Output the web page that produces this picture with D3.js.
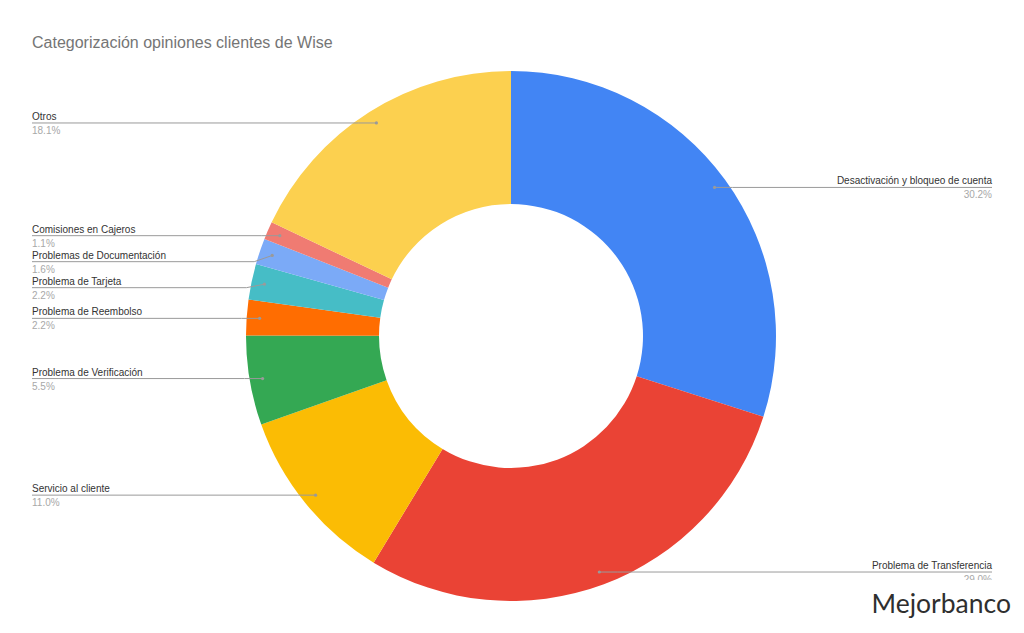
<!DOCTYPE html>
<html>
<head>
<meta charset="utf-8">
<script src="https://cdn.jsdelivr.net/npm/d3@7"></script>
<style>
  html, body { margin: 0; padding: 0; background: #fff; }
  svg { display: block; }
</style>
</head>
<body>
<svg id="chart" width="1024" height="633"></svg>
<script>
const title = "Categorización opiniones clientes de Wise";
const categories = [
  "Desactivación y bloqueo de cuenta",
  "Problema de Transferencia",
  "Servicio al cliente",
  "Problema de Verificación",
  "Problema de Reembolso",
  "Problema de Tarjeta",
  "Problemas de Documentación",
  "Comisiones en Cajeros",
  "Otros"
];
const values = [30.2, 29.0, 11.0, 5.5, 2.2, 2.2, 1.6, 1.1, 18.1];
const percentLabels = ["30.2%", "29.0%", "11.0%", "5.5%", "2.2%", "2.2%", "1.6%", "1.1%", "18.1%"];
const colors = ["#4285F4", "#EA4335", "#FBBC04", "#34A853", "#FF6D01", "#46BDC6", "#7BAAF7", "#F07B72", "#FCD04F"];

const svg = d3.select("#chart");
const cx = 511, cy = 336, R = 265, r0 = 132, rAnchor = 252;

svg.append("text")
  .attr("x", 32).attr("y", 48)
  .attr("font-family", "Liberation Sans, Arial, sans-serif")
  .attr("font-size", 16)
  .attr("fill", "#757575")
  .text(title);

const data = categories.map((c, i) => ({ name: c, value: values[i], pct: percentLabels[i], color: colors[i] }));
const pie = d3.pie().value(d => d.value).sort(null);
const arcs = pie(data);
const arc = d3.arc().innerRadius(r0).outerRadius(R);

const g = svg.append("g").attr("transform", `translate(${cx},${cy})`);
g.selectAll("path.slice").data(arcs).enter().append("path")
  .attr("class", "slice")
  .attr("d", arc)
  .attr("fill", d => d.data.color);

// label layout
const labels = arcs.map(a => {
  const mid = (a.startAngle + a.endAngle) / 2;
  const ax = cx + rAnchor * Math.sin(mid);
  const ay = cy - rAnchor * Math.cos(mid);
  return { a, mid, ax, ay, side: Math.sin(mid) >= 0 ? "right" : "left", ly: ay };
});
["left", "right"].forEach(side => {
  const list = labels.filter(l => l.side === side).sort((p, q) => p.ay - q.ay);
  for (let i = 1; i < list.length; i++) {
    if (list[i].ly < list[i - 1].ly + 26) list[i].ly = list[i - 1].ly + 26;
  }
});

const lg = svg.append("g");
labels.forEach(l => {
  let path;
  if (l.side === "left") {
    path = `M32,${l.ly}H${l.ax - 18}L${l.ax},${l.ay}`;
  } else {
    path = `M${l.ax},${l.ay}L${l.ax + 18},${l.ly}H992`;
  }
  lg.append("path").attr("d", path).attr("fill", "none")
    .attr("stroke", "#9a9a9a").attr("stroke-width", 1);
  lg.append("circle").attr("cx", l.ax).attr("cy", l.ay).attr("r", 1.6).attr("fill", "#9a9a9a");
  const tx = l.side === "left" ? 32 : 992;
  const anchor = l.side === "left" ? "start" : "end";
  lg.append("text").attr("x", tx).attr("y", l.ly - 3)
    .attr("text-anchor", anchor)
    .attr("font-family", "Liberation Sans, Arial, sans-serif")
    .attr("font-size", 10).attr("fill", "#333")
    .text(l.a.data.name);
  lg.append("text").attr("x", tx).attr("y", l.ly + 11)
    .attr("text-anchor", anchor)
    .attr("font-family", "Liberation Sans, Arial, sans-serif")
    .attr("font-size", 10).attr("fill", "#a8a8a8")
    .text(l.a.data.pct);
});

// watermark logo
svg.append("rect").attr("x", 862).attr("y", 580).attr("width", 162).attr("height", 53).attr("fill", "#fff");
svg.append("text")
  .attr("x", 1011).attr("y", 613)
  .attr("text-anchor", "end")
  .attr("font-family", "Lato, 'Open Sans', sans-serif")
  .attr("font-size", 26.5)
  .attr("fill", "#2f2f2f")
  .text("Mejorbanco");
</script>
</body>
</html>
